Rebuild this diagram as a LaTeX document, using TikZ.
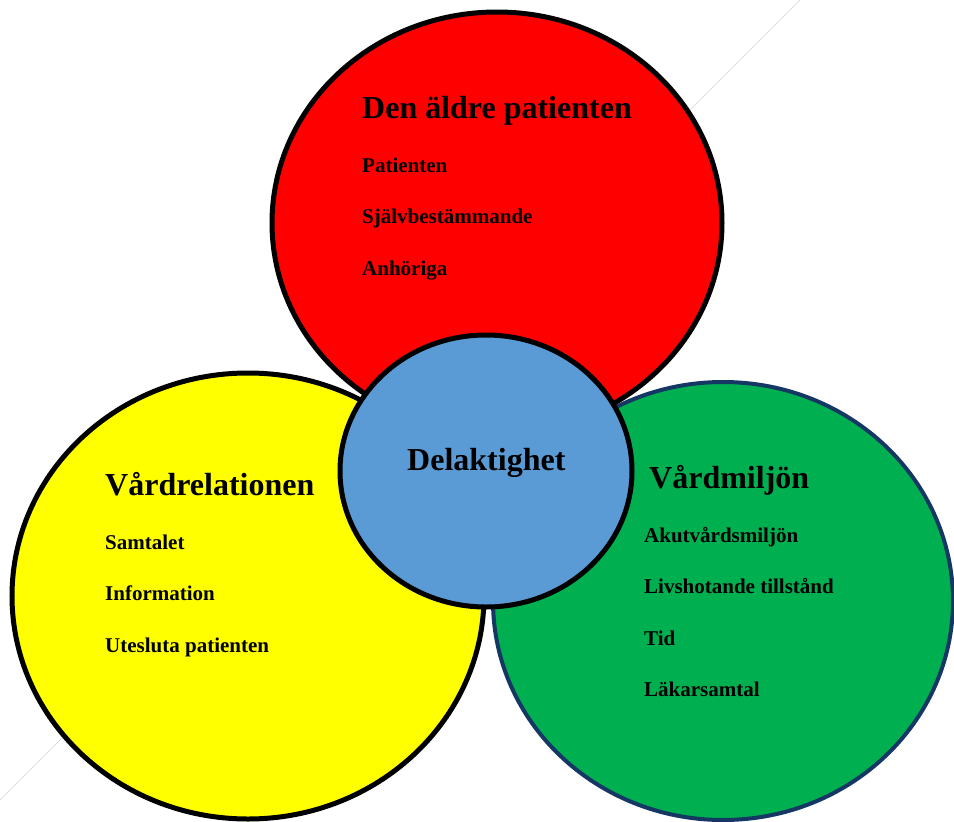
\documentclass[tikz,border=0pt]{standalone}
\usepackage{fontspec}
\setmainfont{Liberation Serif}
\usetikzlibrary{shapes.geometric}
\definecolor{cred}{RGB}{255,0,0}
\definecolor{cyellow}{RGB}{255,255,0}
\definecolor{cgreen}{RGB}{0,176,80}
\definecolor{cblue}{RGB}{91,155,213}
\definecolor{cnavy}{RGB}{20,55,100}
\tikzset{
  circ/.style={ellipse, draw=black, line width=5pt, inner sep=0pt},
  head/.style={anchor=base west, inner sep=0pt, font=\fontsize{32}{38}\selectfont\bfseries},
  item/.style={anchor=base west, inner sep=0pt, font=\fontsize{21}{25}\selectfont\bfseries},
}
\begin{document}
\begin{tikzpicture}[x=1pt,y=-1pt]
\useasboundingbox (0,0) rectangle (954,822);
\coordinate (l1) at (800,0);
\coordinate (l2) at (0,800);
\draw[black!12, line width=1pt] (l1) -- (l2);
\node[circ, fill=cyellow, minimum width=472pt, minimum height=446pt] (yellow) at (248,596) {};
\node[circ, fill=cgreen, draw=cnavy, line width=4pt, minimum width=460pt, minimum height=438pt] (green) at (723,601) {};
\node[circ, fill=cred, minimum width=450pt, minimum height=422pt] (red) at (497,223) {};
\node[circ, fill=cblue, minimum width=292pt, minimum height=272pt] (blue) at (486,471) {};
\node[head] (th) at (362,118) {Den äldre patienten};
\node[item] (t1) at (362,172) {Patienten};
\node[item] (t2) at (362,223) {Självbestämmande};
\node[item] (t3) at (362,275) {Anhöriga};
\node[head] (yh) at (105,495) {Vårdrelationen};
\node[item] (y1) at (105,549) {Samtalet};
\node[item] (y2) at (105,600) {Information};
\node[item] (y3) at (105,652) {Utesluta patienten};
\node[head] (gh) at (649,488) {Vårdmiljön};
\node[item] (g1) at (644,542) {Akutvårdsmiljön};
\node[item] (g2) at (644,593) {Livshotande tillstånd};
\node[item] (g3) at (644,645) {Tid};
\node[item] (g4) at (644,696) {Läkarsamtal};
\node[head] (bh) at (407,470) {Delaktighet};
\end{tikzpicture}
\end{document}
